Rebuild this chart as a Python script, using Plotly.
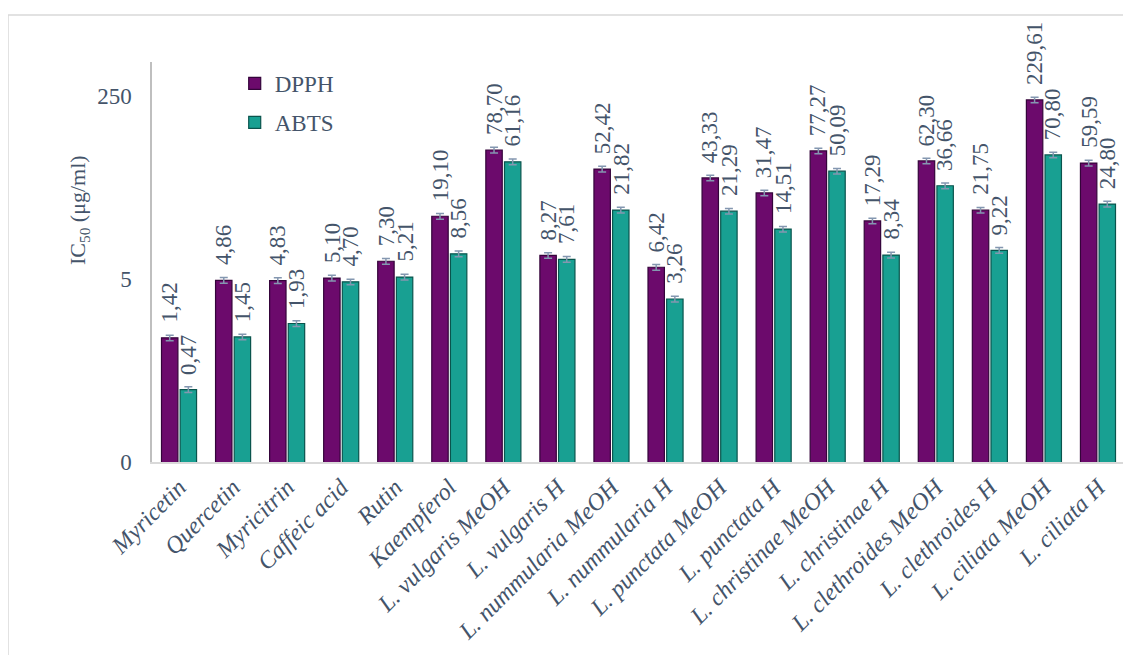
import math

import plotly.graph_objects as go


categories = [
    "Myricetin", "Quercetin", "Myricitrin", "Caffeic acid", "Rutin", "Kaempferol",
    "L. vulgaris MeOH", "L. vulgaris H", "L. nummularia MeOH", "L. nummularia H",
    "L. punctata MeOH", "L. punctata H", "L. christinae MeOH", "L. christinae H",
    "L. clethroides MeOH", "L. clethroides H", "L. ciliata MeOH", "L. ciliata H",
]
dpph = [1.42, 4.86, 4.83, 5.10, 7.30, 19.10, 78.70, 8.27, 52.42, 6.42,
        43.33, 31.47, 77.27, 17.29, 62.30, 21.75, 229.61, 59.59]
abts = [0.47, 1.45, 1.93, 4.70, 5.21, 8.56, 61.16, 7.61, 21.82, 3.26,
        21.29, 14.51, 50.09, 8.34, 36.66, 9.22, 70.80, 24.80]

y_tickvals = [0.1, 5, 250]
y_ticktext = ["0", "5", "250"]

FONT = "Times New Roman, Liberation Serif, serif"
TXT = "#44546A"
PURPLE = "#6C0A6C"
TEAL = "#18A092"
BARGAP = 0.31

fig = go.Figure()

for name, vals, col, edge in [("DPPH", dpph, PURPLE, "#34043A"),
                              ("ABTS", abts, TEAL, "#0A544D")]:
    fig.add_trace(go.Bar(
        x=categories,
        y=vals,
        name=name,
        legendgroup=name,
        marker=dict(color=col, line=dict(color=edge, width=1.2)),
        error_y=dict(type="percent", value=6, color="#8497B0", thickness=1.5, width=4),
    ))

# data labels, rotated, above each bar
off = (1 - BARGAP) / 4
annotations = []
for i in range(len(categories)):
    for vals, dx in [(dpph, -off), (abts, off)]:
        v = vals[i]
        annotations.append(dict(
            x=i + dx, y=math.log10(v), xref="x", yref="y",
            text="{:.2f}".format(v).replace(".", ","),
            textangle=-90, showarrow=False,
            xanchor="center", yanchor="bottom", yshift=13,
            font=dict(family=FONT, size=23, color=TXT),
        ))

# y-axis title placed like the original
annotations.append(dict(
    x=-0.075, y=0.63, xref="paper", yref="paper",
    text="IC<sub>50</sub> (μg/ml)", textangle=-90, showarrow=False,
    xanchor="center", yanchor="middle",
    font=dict(family=FONT, size=22, color=TXT),
))

# the page body adds 8px on the left and top, margins take that into account
fig.update_layout(
    width=1131,
    height=655,
    margin=dict(l=144, r=14, t=54, b=201),
    paper_bgcolor="white",
    plot_bgcolor="white",
    barmode="group",
    bargap=BARGAP,
    bargroupgap=0.12,
    font=dict(family=FONT, color=TXT),
    annotations=annotations,
    legend=dict(
        x=0.085, y=1.0, xanchor="left", yanchor="top",
        font=dict(family=FONT, size=23, color=TXT),
        bgcolor="rgba(0,0,0,0)",
        traceorder="grouped",
        tracegroupgap=6,
    ),
    shapes=[dict(
        type="rect", xref="paper", yref="paper",
        x0=-0.148, x1=1.2, y0=-0.7, y1=1.1175,
        line=dict(color="#D9D9D9", width=1.5),
        layer="below",
    )],
)

fig.update_xaxes(
    tickangle=-45,
    tickfont=dict(family=FONT, size=24, color=TXT, style="italic"),
    showline=True, linecolor="#D9D9D9", linewidth=1.5,
    showgrid=False, ticks="", automargin=False,
)

fig.update_yaxes(
    type="log",
    range=[-1, 2.713],
    tickvals=y_tickvals,
    ticktext=y_ticktext,
    tickfont=dict(family=FONT, size=23, color=TXT),
    showline=True, linecolor="#BFBFBF", linewidth=1.5,
    showgrid=False, zeroline=False, ticks="",
    ticklabelstandoff=14, automargin=False,
)

fig.write_html("out.html")
